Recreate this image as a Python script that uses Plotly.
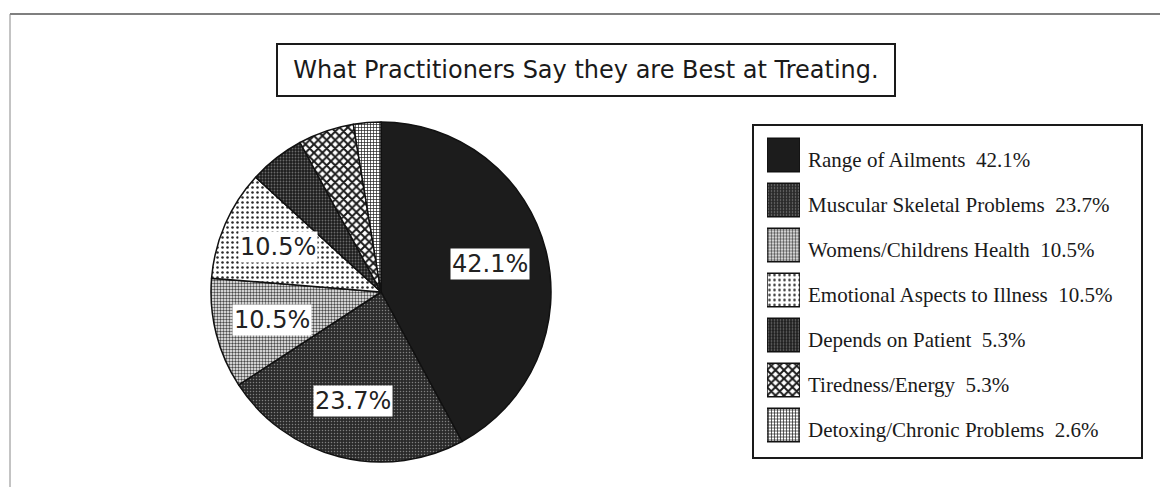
import math
import plotly.graph_objects as go

# Data
categories = [
    "Range of Ailments",
    "Muscular Skeletal Problems",
    "Womens/Childrens Health",
    "Emotional Aspects to Illness",
    "Depends on Patient",
    "Tiredness/Energy",
    "Detoxing/Chronic Problems",
]
percentages = [42.1, 23.7, 10.5, 10.5, 5.3, 5.3, 2.6]
labelled = [True, True, True, True, False, False, False]

# Fill styles (monochrome textures)
base_colors = ["#1c1c1c", "#2a2a2a", "#ffffff", "#ffffff", "#1c1c1c", "#ffffff", "#ffffff"]
pat_shapes = ["", ".", ".", ".", ".", "x", "+"]
pat_fg = ["#1c1c1c", "#808080", "#4a4a4a", "#2a2a2a", "#6a6a6a", "#1a1a1a", "#1a1a1a"]
pat_bg = ["#1c1c1c", "#2a2a2a", "#ffffff", "#ffffff", "#1c1c1c", "#ffffff", "#ffffff"]
pat_size = [4, 3, 3, 5, 3, 6, 3]
pat_solid = [0.3, 0.2, 0.5, 0.2, 0.3, 0.55, 0.4]

W, H = 1160, 487
CX, CY, R = 381, 292, 170  # pie centre and radius in pixels

fig = go.Figure()

fig.add_trace(go.Pie(
    labels=categories,
    values=percentages,
    sort=False,
    direction="clockwise",
    rotation=0,
    textinfo="none",
    hoverinfo="label+percent",
    showlegend=False,
    marker=dict(colors=base_colors, line=dict(color="#111111", width=1.5),
                pattern=dict(shape=pat_shapes, fgcolor=pat_fg, bgcolor=pat_bg,
                             size=pat_size, solidity=pat_solid, fillmode="replace")),
    domain=dict(x=[(CX - R) / W, (CX + R) / W],
                y=[1 - (CY + R) / H, 1 - (CY - R) / H]),
))

# Legend swatches: one equal-length horizontal bar per category
for i, cat in enumerate(categories):
    fig.add_trace(go.Bar(
        x=[1],
        y=[cat],
        orientation="h",
        width=0.74,
        marker=dict(color=base_colors[i], line=dict(color="#111111", width=1.5),
                    pattern=dict(shape=pat_shapes[i], fgcolor=pat_fg[i],
                                 bgcolor=pat_bg[i], size=pat_size[i],
                                 solidity=pat_solid[i], fillmode="replace")),
        hoverinfo="skip",
        showlegend=False,
    ))

legend_text = [f"{c}  {p}%" for c, p in zip(categories, percentages)]

fig.update_layout(
    width=W, height=H,
    margin=dict(l=0, r=0, t=0, b=0),
    paper_bgcolor="white",
    plot_bgcolor="rgba(0,0,0,0)",
    barmode="overlay",
    xaxis=dict(domain=[767 / W, 800 / W], range=[0, 1], visible=False,
               fixedrange=True),
    yaxis=dict(domain=[1 - 447.5 / H, 1 - 132.5 / H], range=[6.5, -0.5],
               side="right", anchor="x", showline=False, showgrid=False,
               zeroline=False, ticks="", tickmode="array",
               categoryorder="array", categoryarray=categories,
               tickvals=categories, ticktext=legend_text,
               ticklabelstandoff=7, ticklabelshift=-5,
               tickfont=dict(family="Liberation Serif", size=21, color="#1a1a1a"),
               fixedrange=True),
    font=dict(family="DejaVu Sans", color="#1a1a1a"),
)

# Percentage labels inside the larger slices
annotations = []
cum = 0.0
total = sum(percentages)
for p, show in zip(percentages, labelled):
    mid = (cum + p / 2) / total * 2 * math.pi
    cum += p
    if not show:
        continue
    px = CX + 0.66 * R * math.sin(mid)
    py = CY - 0.66 * R * math.cos(mid)
    annotations.append(dict(
        x=px / W, y=1 - py / H, xref="paper", yref="paper",
        xanchor="center", yanchor="middle",
        text=f"{p}%", showarrow=False,
        font=dict(family="DejaVu Sans", size=24, color="#222222"),
        bgcolor="white", borderpad=1,
    ))

# Title in a framed box
annotations.append(dict(
    x=586 / W, y=1 - 70 / H, xref="paper", yref="paper",
    xanchor="center", yanchor="middle",
    text="What Practitioners Say they are Best at Treating.",
    showarrow=False, width=596, height=30,
    font=dict(family="DejaVu Sans", size=24, color="#1a1a1a"),
    bordercolor="#1a1a1a", borderwidth=2, borderpad=10, bgcolor="white",
))
fig.update_layout(annotations=annotations)

# Outer frame (top and left edges) and legend border
fig.update_layout(shapes=[
    dict(type="line", xref="paper", yref="paper", x0=10 / W, x1=1, y0=1 - 14 / H, y1=1 - 14 / H,
         line=dict(color="#555555", width=1.5)),
    dict(type="line", xref="paper", yref="paper", x0=10 / W, x1=10 / W, y0=0, y1=1 - 14 / H,
         line=dict(color="#888888", width=1)),
    dict(type="rect", xref="paper", yref="paper", x0=753 / W, x1=1142 / W,
         y0=1 - 458 / H, y1=1 - 125 / H, line=dict(color="#1a1a1a", width=2)),
])

fig.write_html("out.html")
